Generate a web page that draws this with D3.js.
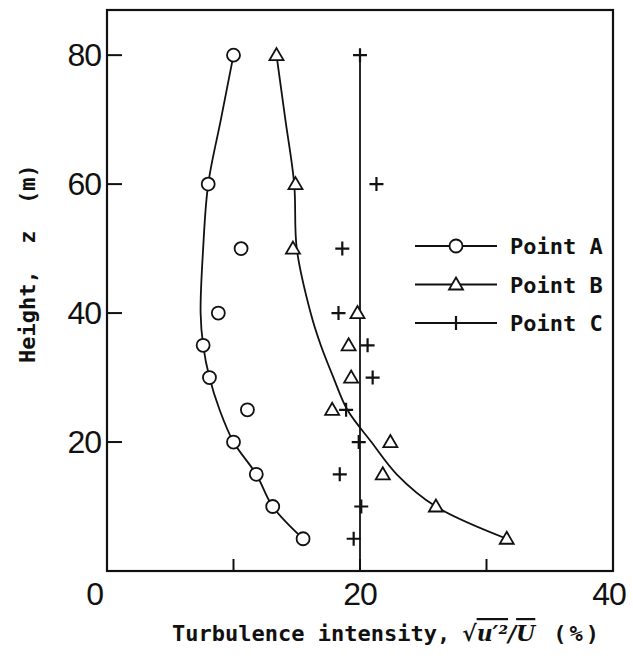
<!DOCTYPE html>
<html>
<head>
<meta charset="utf-8">
<script src="https://cdn.jsdelivr.net/npm/d3@7"></script>
<style>
  body { margin: 0; background: #fff; }
  text { fill: #111; }
  .mono { font-family: "DejaVu Sans Mono", monospace; font-weight: bold; font-size: 22px; }
  .tick { font-family: "Liberation Sans", Arial, sans-serif; font-size: 32px; letter-spacing: -1px; }
</style>
</head>
<body>
<div id="chart"></div>
<script>
// measured points (height z in m, intensity in %)
var heightsA = [80, 60, 50, 40, 35, 30, 25, 20, 15, 10, 5];
var valuesA  = [10.0, 8.0, 10.6, 8.8, 7.6, 8.1, 11.1, 10.0, 11.8, 13.1, 15.5];
var heightsB = [80, 60, 50, 40, 35, 30, 25, 20, 15, 10, 5];
var valuesB  = [13.4, 14.9, 14.7, 19.8, 19.1, 19.3, 17.8, 22.4, 21.8, 26.0, 31.6];
var heightsC = [80, 60, 50, 40, 35, 30, 25, 20, 15, 10, 5];
var valuesC  = [20.0, 21.3, 18.6, 18.3, 20.6, 21.0, 18.9, 19.9, 18.4, 20.1, 19.5];

// hand drawn fitting curves
var curveHeightsA = [80, 70, 60, 50, 40, 35, 30, 25, 20, 15, 10, 5];
var curveValuesA  = [10.0, 9.0, 8.0, 7.6, 7.4, 7.6, 8.1, 8.9, 10.0, 11.8, 13.1, 15.5];
var curveHeightsB = [80, 70, 60, 50, 40, 35, 30, 25, 20, 15, 10, 5];
var curveValuesB  = [13.4, 14.1, 14.8, 15.0, 16.1, 16.9, 17.9, 19.0, 20.9, 22.9, 26.0, 31.6];
var curveHeightsC = [80, 0];
var curveValuesC  = [20, 20];

var xTickLabels = [0, 20, 40];
var xTickMarks = [10, 20, 30];
var yTickLabels = [20, 40, 60, 80];
var legendNames = ["Point A", "Point B", "Point C"];

var width = 633, height = 665;
var plot = { left: 107, right: 613, top: 10, bottom: 571 };

var svg = d3.select("#chart")
            .append("svg")
              .attr("width", width)
              .attr("height", height);

const xscale = d3.scaleLinear().domain([0, 40]).range([plot.left, plot.right]);
const yscale = d3.scaleLinear().domain([0, 87]).range([plot.bottom, plot.top]);

//marker shapes
function circle(g){ g.append("circle").attr("r", 6.5).attr("fill", "#fff").attr("stroke", "#111").attr("stroke-width", 1.8); }
function triangle(g){ g.append("path").attr("d", "M0,-7L7,5L-7,5Z").attr("fill", "#fff").attr("stroke", "#111").attr("stroke-width", 1.8); }
function plus(g){ g.append("path").attr("d", "M-7,0H7M0,-7V7").attr("stroke", "#111").attr("stroke-width", 2.2); }
var shapes = [circle, triangle, plus];

//fitted lines
var line = d3.line()
             .x(function(d){ return xscale(d[0]); })
             .y(function(d){ return yscale(d[1]); })
             .curve(d3.curveCatmullRom.alpha(0.5));

var curves = [d3.zip(curveValuesA, curveHeightsA), d3.zip(curveValuesB, curveHeightsB), d3.zip(curveValuesC, curveHeightsC)];
svg.selectAll("path.fit")
   .data(curves)
   .join("path")
     .attr("class", "fit")
     .attr("d", line)
     .attr("fill", "none")
     .attr("stroke", "#111")
     .attr("stroke-width", 1.8);

//points
var series = [d3.zip(valuesA, heightsA), d3.zip(valuesB, heightsB), d3.zip(valuesC, heightsC)];
series.forEach(function(s, i){
  svg.append("g").selectAll("g")
     .data(s)
     .join("g")
       .attr("transform", function(d){ return "translate(" + xscale(d[0]) + "," + yscale(d[1]) + ")"; })
       .each(function(){ shapes[i](d3.select(this)); });
});

//frame
svg.append("rect")
   .attr("x", plot.left).attr("y", plot.top)
   .attr("width", plot.right - plot.left).attr("height", plot.bottom - plot.top)
   .attr("fill", "none").attr("stroke", "#111").attr("stroke-width", 2.2);

//ticks pointing inwards
svg.selectAll("line.ytick")
   .data(yTickLabels)
   .join("line")
     .attr("x1", plot.left).attr("x2", plot.left + 15)
     .attr("y1", function(d){ return yscale(d); }).attr("y2", function(d){ return yscale(d); })
     .attr("stroke", "#111").attr("stroke-width", 2);
svg.selectAll("line.xtick")
   .data(xTickMarks)
   .join("line")
     .attr("x1", function(d){ return xscale(d); }).attr("x2", function(d){ return xscale(d); })
     .attr("y1", plot.bottom).attr("y2", plot.bottom - 12)
     .attr("stroke", "#111").attr("stroke-width", 2);

svg.selectAll("text.ylab")
   .data(yTickLabels)
   .join("text")
     .attr("class", "tick")
     .attr("text-anchor", "end")
     .attr("x", plot.left - 6)
     .attr("y", function(d){ return yscale(d) + 11; })
     .text(function(d){ return d; });
svg.selectAll("text.xlab")
   .data(xTickLabels)
   .join("text")
     .attr("class", "tick")
     .attr("text-anchor", function(d){ return d == 0 ? "end" : "middle"; })
     .attr("x", function(d){ return d == 0 ? xscale(d) - 4 : xscale(d) - (d == 40 ? 4 : 0); })
     .attr("y", 605)
     .text(function(d){ return d; });

//axis titles
svg.append("text")
   .attr("class", "mono")
   .attr("transform", "translate(35,363) rotate(-90)")
   .style("white-space", "pre")
   .text("Height,  z  (m)");

var xt = svg.append("text")
   .attr("class", "mono")
   .attr("x", 172).attr("y", 641)
   .style("white-space", "pre");
xt.append("tspan").text("Turbulence intensity,");
xt.append("tspan").attr("dx", 12).style("font-family", "DejaVu Serif").style("font-style", "italic").text("\u221A");
xt.append("tspan").style("font-family", "DejaVu Serif").style("font-style", "italic").style("text-decoration", "overline").text("u\u2032\u00B2");
xt.append("tspan").style("font-family", "DejaVu Serif").style("font-style", "italic").text("/");
xt.append("tspan").style("font-family", "DejaVu Serif").style("font-style", "italic").style("text-decoration", "overline").text("U");
xt.append("tspan").attr("dx", 18).style("letter-spacing", "3px").text("(%)");

//legend
var legend = svg.append("g").selectAll("g")
   .data(legendNames)
   .join("g")
     .attr("transform", function(d, i){ return "translate(415," + (246 + i * 38.5) + ")"; });
legend.append("line")
   .attr("x1", 0).attr("x2", 82)
   .attr("stroke", "#111").attr("stroke-width", 1.8);
legend.each(function(d, i){
   var m = d3.select(this).append("g").attr("transform", "translate(41,0)");
   shapes[i](m);
});
legend.append("text")
   .attr("class", "mono")
   .attr("x", 95).attr("y", 8)
   .text(function(d){ return d; });
</script>
</body>
</html>
